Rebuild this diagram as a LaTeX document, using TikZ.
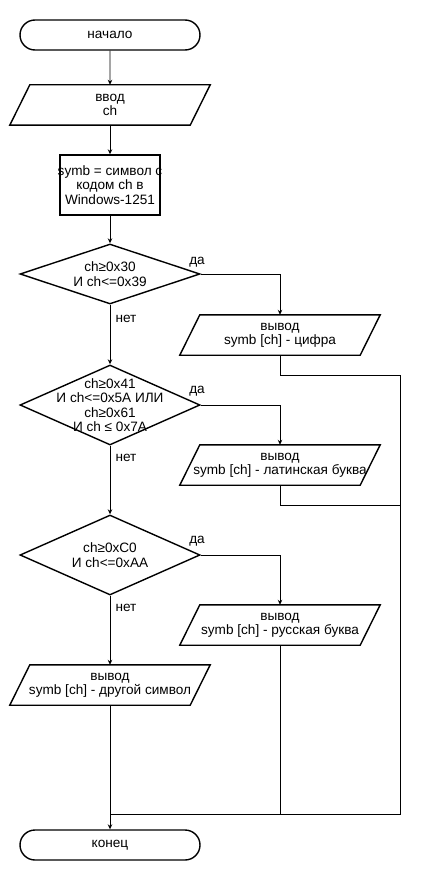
\documentclass[tikz,border=0pt]{standalone}
\usepackage{fontspec}
\setmainfont{Liberation Sans}
\usetikzlibrary{shapes.geometric,shapes.misc,arrows.meta}
\newcommand\iodraw[1]{\draw[shp] ([xshift=-10pt]#1.south west) -- ([xshift=-10pt]#1.south east) -- ([xshift=10pt]#1.north east) -- ([xshift=10pt]#1.north west) -- cycle;}
\begin{document}
\begin{tikzpicture}[x=1pt,y=-1pt,
  font=\fontsize{13.6pt}{14.3pt}\selectfont,
  shp/.style={draw=black, line width=1.4pt},
  term/.style={shp, rounded rectangle, minimum width=180pt, minimum height=30pt, inner sep=0pt},
  iobox/.style={minimum width=180pt, minimum height=40pt, inner sep=0pt, align=center},
  procbox/.style={shp, rectangle, minimum width=100pt, minimum height=60pt, inner sep=0pt},
  decision/.style={shp, diamond, minimum width=180pt, minimum height=#1, inner sep=0pt},
  txt/.style={align=center, inner sep=0pt},
  conn/.style={line width=0.9pt, -{Stealth[length=5pt,width=4.5pt]}},
  plain/.style={line width=0.9pt},
  lbl/.style={inner sep=0pt}]
\fill[white] (0,0) rectangle (420,880);
\useasboundingbox (0,0) rectangle (420,880);

\node[term] (start) at (110,35) {начало};
\node[iobox] (in) at (110,105) {ввод\\ch};
\iodraw{in}
\node[procbox] (proc) at (110,185) {};
\node[txt] (proctxt) at (proc.center) {symb = символ с\\кодом ch в\\Windows-1251};

\node[decision=60pt] (d1) at (110,274) {};
\node[txt] (d1t) at (d1.center) {ch≥0x30\\И ch<=0x39};
\node[iobox] (p1) at (280,335) {вывод\\symb [ch] - цифра};
\iodraw{p1}

\node[decision=80pt] (d2) at (110,405) {};
\node[txt] (d2t) at (d2.center) {ch≥0x41\\И ch<=0x5A ИЛИ\\ch≥0x61\\И ch ≤ 0x7A};
\node[iobox] (p2) at (280,465) {вывод\\symb [ch] - латинская буква};
\iodraw{p2}

\node[decision=80pt] (d3) at (110,555) {};
\node[txt] (d3t) at (d3.center) {ch≥0xC0\\И ch<=0xAA};
\node[iobox] (p3) at (280,625) {вывод\\symb [ch] - русская буква};
\iodraw{p3}

\node[iobox] (p4) at (110,685) {вывод\\symb [ch] - другой символ};
\iodraw{p4}

\node[term] (end) at (110,845) {конец};

\coordinate (r1) at (400,375);
\coordinate (r2) at (400,505);
\coordinate (rt) at (400,814);
\coordinate (m) at (110,814);

\draw[conn] (start) -- (in);
\draw[conn] (in) -- (proc);
\draw[conn] (proc) -- (d1);
\draw[conn] (d1.east) -| (p1.north);
\draw[conn] (d1.south) -- (d2.north);
\draw[conn] (d2.east) -| (p2.north);
\draw[conn] (d2.south) -- (d3.north);
\draw[conn] (d3.east) -| (p3.north);
\draw[conn] (d3.south) -- (p4.north);
\draw[plain] (p1.south) |- (r1) -- (rt) -- (m);
\draw[plain] (p2.south) |- (r2);
\draw[plain] (p3.south) -- (p3.south |- m);
\draw[conn] (p4.south) -- (end.north);

\node[lbl] (y1) at (197,262) {да};
\node[lbl] (n1) at (126,319) {нет};
\node[lbl] (y2) at (197,391) {да};
\node[lbl] (n2) at (126,458) {нет};
\node[lbl] (y3) at (197,541) {да};
\node[lbl] (n3) at (126,608) {нет};
\end{tikzpicture}
\end{document}
